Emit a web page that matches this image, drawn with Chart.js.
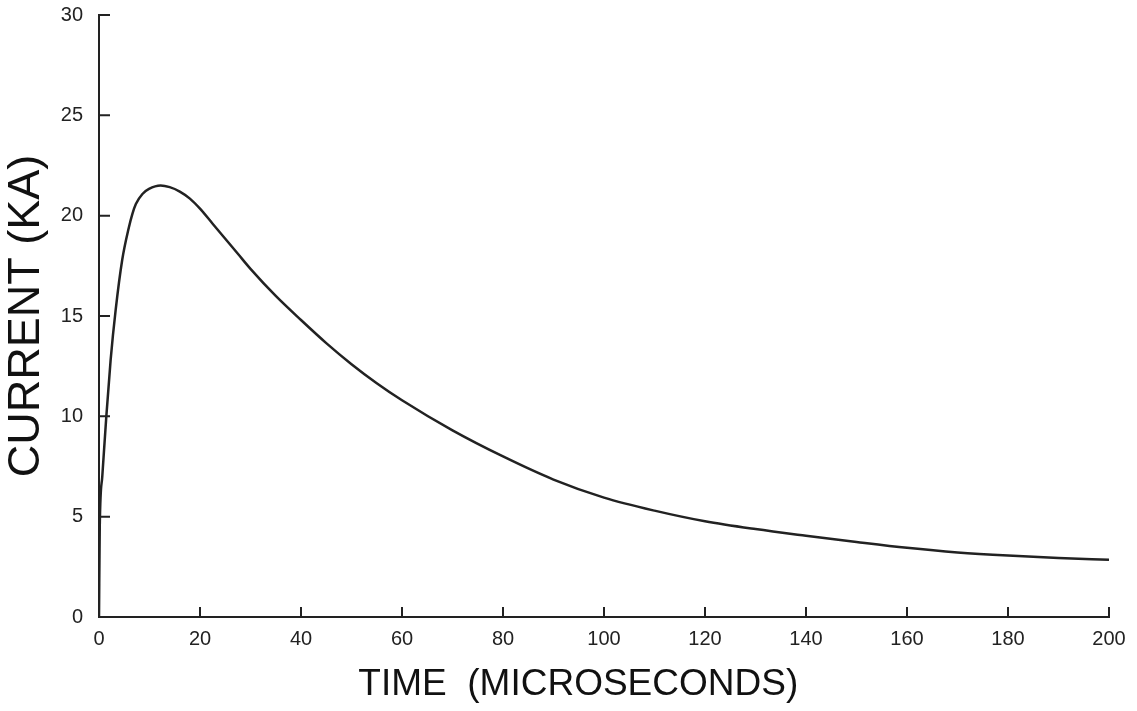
<!DOCTYPE html>
<html lang="en">
<head>
    <meta charset="UTF-8">
    <title>Current vs Time</title>
    <script src="https://cdn.jsdelivr.net/npm/chart.js"></script>
    <style>
        body { margin: 0; background: #fff; }
        #wrap { width: 1137px; height: 711px; }
    </style>
</head>
<body>
    <div id="wrap">
        <canvas id="currentChart" width="1137" height="711"></canvas>
    </div>
    <script>
        // time in microseconds, current in KA
        const timeUs = [0, 0.15, 0.65, 1.45, 2.3, 3.3, 4.6, 5.9, 6.6, 7.3, 8.6, 9.9, 12.2, 14, 16, 18, 20, 22.5, 25, 27.5, 30, 35, 40, 45, 50, 55, 60, 70, 80, 90, 100, 110, 120, 130, 140, 150, 160, 170, 180, 190, 200];
        const currentKA = [0, 4.5, 7.0, 10.0, 12.8, 15.3, 17.8, 19.4, 20.08, 20.58, 21.08, 21.33, 21.5, 21.42, 21.2, 20.85, 20.35, 19.6, 18.85, 18.1, 17.35, 16.0, 14.8, 13.65, 12.6, 11.65, 10.8, 9.3, 8.0, 6.85, 5.95, 5.3, 4.77, 4.38, 4.05, 3.74, 3.45, 3.22, 3.06, 2.94, 2.85];
        const xTicks = [0, 20, 40, 60, 80, 100, 120, 140, 160, 180, 200];
        const yTicks = [0, 5, 10, 15, 20, 25, 30];

        const ink = "#222";

        // tick marks point into the plot, like the original
        const inwardTicks = {
            id: "inwardTicks",
            afterDraw(chart) {
                const ctx = chart.ctx;
                const xs = chart.scales.x, ys = chart.scales.y;
                const area = chart.chartArea;
                ctx.save();
                ctx.strokeStyle = ink;
                ctx.lineWidth = 2;
                ctx.beginPath();
                xTicks.forEach(v => {
                    const px = xs.getPixelForValue(v);
                    ctx.moveTo(px, area.bottom);
                    ctx.lineTo(px, area.bottom - 10);
                });
                yTicks.forEach(v => {
                    const py = ys.getPixelForValue(v);
                    ctx.moveTo(area.left, py);
                    ctx.lineTo(area.left + 11, py);
                });
                ctx.stroke();
                ctx.restore();
            }
        };

        new Chart(document.getElementById("currentChart"), {
            type: "line",
            data: {
                datasets: [{
                    data: timeUs.map((t, i) => ({ x: t, y: currentKA[i] })),
                    borderColor: ink,
                    borderWidth: 2.5,
                    pointRadius: 0,
                    fill: false,
                    cubicInterpolationMode: "monotone"
                }]
            },
            options: {
                responsive: false,
                animation: false,
                layout: { padding: { top: 15, right: 28, left: 0, bottom: 0 } },
                plugins: { legend: { display: false }, tooltip: { enabled: false } },
                scales: {
                    x: {
                        type: "linear",
                        min: 0,
                        max: 200,
                        afterFit: s => { s.height = 94; },
                        afterBuildTicks: s => { s.ticks = xTicks.map(v => ({ value: v })); },
                        grid: { drawOnChartArea: false, drawTicks: false },
                        border: { color: ink, width: 2 },
                        ticks: { color: ink, padding: 10, maxRotation: 0, font: { family: "Liberation Sans", size: 20 } },
                        title: {
                            display: true,
                            text: "TIME  (MICROSECONDS)     ",
                            color: "#111",
                            padding: { top: 0, bottom: 4 },
                            font: { family: "Liberation Sans", size: 37 }
                        }
                    },
                    y: {
                        min: 0,
                        max: 30,
                        afterFit: s => { s.width = 99; s.paddingTop = 0; s.paddingBottom = 0; },
                        afterBuildTicks: s => { s.ticks = yTicks.map(v => ({ value: v })); },
                        grid: { drawOnChartArea: false, drawTicks: false },
                        border: { color: ink, width: 2 },
                        ticks: { color: ink, padding: 16, font: { family: "Liberation Sans", size: 20 } },
                        title: {
                            display: true,
                            text: "CURRENT (KA)",
                            color: "#111",
                            padding: { top: 0, bottom: 0 },
                            font: { family: "Liberation Sans", size: 45 }
                        }
                    }
                }
            },
            plugins: [inwardTicks]
        });
    </script>
</body>
</html>
